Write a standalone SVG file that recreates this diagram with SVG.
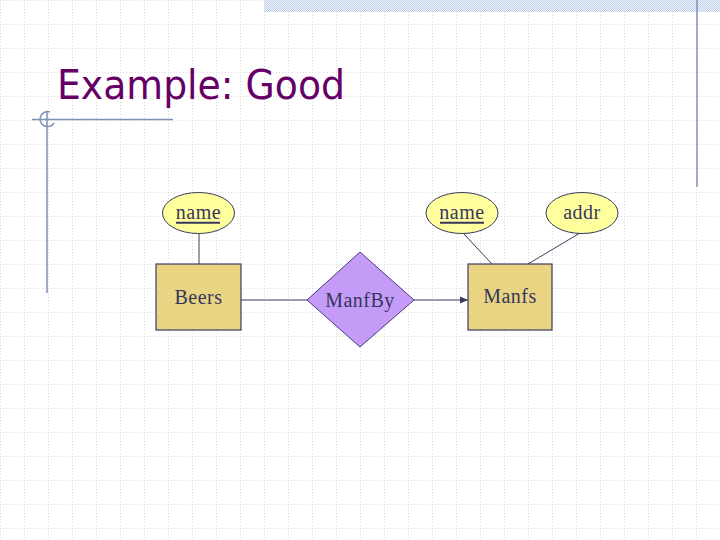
<svg xmlns="http://www.w3.org/2000/svg" width="720" height="540" viewBox="0 0 720 540">
<style>
.deco{stroke:#7f8fb8;stroke-width:1.5;fill:none}
.ent{fill:#e8d482;stroke:#3a3a60;stroke-width:1.2}
.att{fill:#ffff9e;stroke:#3a3a60;stroke-width:1}
.rel{fill:#c49bf7;stroke:#4a3a80;stroke-width:1}
.lbl{font-family:"Liberation Serif","Times New Roman",serif;font-size:20px;fill:#36365e;text-anchor:middle;letter-spacing:0.5px}
.edge{stroke:#3a3a60;stroke-width:1;fill:none}
</style>
<defs>
<pattern id="grid" width="24" height="24" patternUnits="userSpaceOnUse">
<path d="M0.5 0V24M0 0.5H24" stroke="#dadada" stroke-width="1" stroke-dasharray="1 2"/>
</pattern>
<pattern id="hatch" width="2" height="2" patternUnits="userSpaceOnUse">
<rect width="2" height="2" fill="#eef2fa"/>
<rect width="1" height="1" fill="#c3d0ea"/>
<rect x="1" y="1" width="1" height="1" fill="#c3d0ea"/>
</pattern>
<marker id="arr" markerWidth="10" markerHeight="10" refX="8" refY="5" orient="auto" markerUnits="userSpaceOnUse">
<path d="M0 1.5L8 5L0 8.5Z" fill="#3a3a60"/>
</marker>
</defs>
<rect width="720" height="540" fill="#ffffff"/>
<rect width="720" height="540" fill="url(#grid)"/>
<rect x="264" y="0" width="456" height="12" fill="url(#hatch)"/>
<g id="decoration">
<line class="deco" x1="697" y1="0" x2="697" y2="187"/>
<line class="deco" x1="47" y1="112" x2="47" y2="293"/>
<line class="deco" x1="32" y1="119.5" x2="173" y2="119.5"/>
<path class="deco" d="M50 112A7.5 7.5 0 1 0 54 123" stroke-width="1"/>
</g>
<text x="57" y="99" font-family="Tahoma,'DejaVu Sans',sans-serif" font-size="40" fill="#660066" textLength="288" lengthAdjust="spacingAndGlyphs">Example: Good</text>
<g id="connectors">
<line class="edge" x1="199" y1="233" x2="199" y2="264" stroke-width="1.3"/>
<line class="edge" x1="241" y1="300" x2="307" y2="300" stroke-width="1.3"/>
<line class="edge" x1="414" y1="300" x2="468" y2="300" stroke-width="2.5" marker-end="url(#arr)"/>
<line class="edge" x1="463" y1="233" x2="492" y2="264"/>
<line class="edge" x1="580" y1="233" x2="528" y2="264"/>
</g>
<g id="beers-name">
<ellipse class="att" cx="198.5" cy="213" rx="36" ry="20.5"/>
<text class="lbl" x="198.5" y="219">name</text>
<line x1="176" y1="222.8" x2="220" y2="222.8" stroke="#36365e" stroke-width="2"/>
</g>
<g id="beers">
<rect class="ent" x="156" y="264" width="85" height="66"/>
<text class="lbl" x="198.5" y="304">Beers</text>
</g>
<g id="manfby">
<polygon class="rel" points="360,252 414,300 360,347 307,300"/>
<text class="lbl" x="360" y="307">ManfBy</text>
</g>
<g id="manfs">
<rect class="ent" x="468" y="264" width="84" height="66"/>
<text class="lbl" x="510" y="303">Manfs</text>
</g>
<g id="manfs-name">
<ellipse class="att" cx="462" cy="213" rx="36" ry="20.5"/>
<text class="lbl" x="462" y="219">name</text>
<line x1="440" y1="222.8" x2="484" y2="222.8" stroke="#36365e" stroke-width="2"/>
</g>
<g id="manfs-addr">
<ellipse class="att" cx="582" cy="213" rx="36" ry="20.5"/>
<text class="lbl" x="582" y="219">addr</text>
</g>
</svg>
